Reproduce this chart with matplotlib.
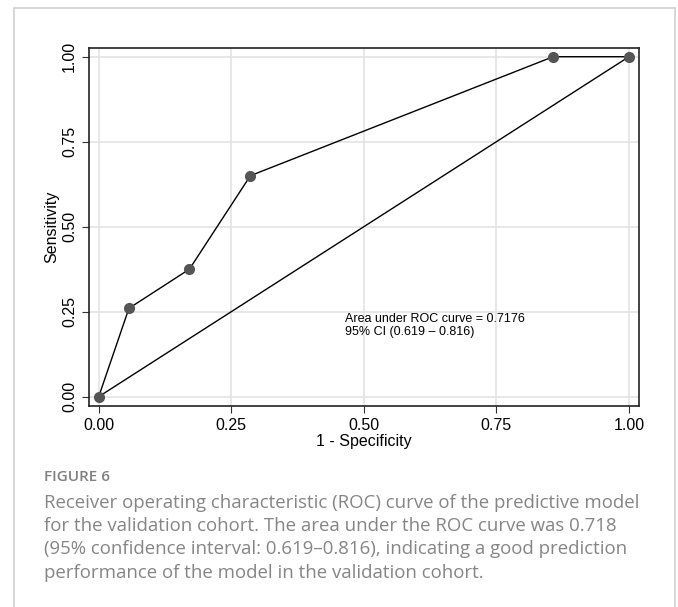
import matplotlib
matplotlib.use("Agg")
import matplotlib.pyplot as plt
from matplotlib.patches import Rectangle

# ROC points (1 - specificity, sensitivity)
fpr = [0.0, 0.057, 0.171, 0.286, 0.857, 1.0]
tpr = [0.0, 0.26, 0.375, 0.65, 1.0, 1.0]
ticks = [0.0, 0.25, 0.50, 0.75, 1.00]
tick_labels = ["0.00", "0.25", "0.50", "0.75", "1.00"]
auc_text = "Area under ROC curve = 0.7176\n95% CI (0.619 \u2013 0.816)"
caption_title = "FIGURE 6"
caption = ("Receiver operating characteristic (ROC) curve of the predictive model\n"
           "for the validation cohort. The area under the ROC curve was 0.718\n"
           "(95% confidence interval: 0.619\u20130.816), indicating a good prediction\n"
           "performance of the model in the validation cohort.")

plt.rcParams['font.family'] = ['Liberation Sans', 'DejaVu Sans']

fig = plt.figure(figsize=(6.78, 6.07), dpi=100)

# light frame around the whole figure panel
fig.patches.append(Rectangle((14 / 678, -0.01), (675 - 14) / 678, 1 - 8 / 607 + 0.01,
                             transform=fig.transFigure, fill=False,
                             edgecolor='#d0d0d0', linewidth=1.2))

ax = fig.add_axes([88.7 / 678, 1 - 406 / 607, (638.7 - 88.7) / 678, (406 - 47.7) / 607])

ax.plot([0, 1], [0, 1], color='black', linewidth=1.0, zorder=2)
ax.plot(fpr, tpr, color='black', linewidth=1.0, marker='o', markersize=7,
        markerfacecolor='#555555', markeredgecolor='#555555', zorder=3)

ax.set_xlim(-0.0189, 1.0183)
ax.set_ylim(-0.0274, 1.0265)
ax.set_xticks(ticks)
ax.set_xticklabels(tick_labels, fontsize=11.5)
ax.set_yticks(ticks)
ax.set_yticklabels(tick_labels, fontsize=11.5, rotation=90, va='center')
ax.grid(True, color='#e3e3e3', linewidth=1.2)
ax.set_axisbelow(True)
ax.tick_params(direction='out', length=5, width=0.8, color='#333333')
for s in ax.spines.values():
    s.set_linewidth(1.2)
    s.set_color('#222222')

ax.set_xlabel("1 - Specificity", fontsize=11.5, labelpad=1)
ax.set_ylabel("Sensitivity", fontsize=11.5, labelpad=2)

ax.text(0.4645, 0.245, auc_text, fontsize=9, va='top', ha='left', linespacing=1.1)

fig.text(44 / 678, 1 - 477 / 607, caption_title, fontsize=11, color='#808080',
         family=['Open Sans', 'DejaVu Sans'], fontweight='semibold', va='center')
fig.text(44 / 678, 1 - 494 / 607, caption, fontsize=13.4, color='#858585',
         family=['Open Sans', 'DejaVu Sans'], va='top', linespacing=1.37)

fig.savefig("out.png", dpi=100)
